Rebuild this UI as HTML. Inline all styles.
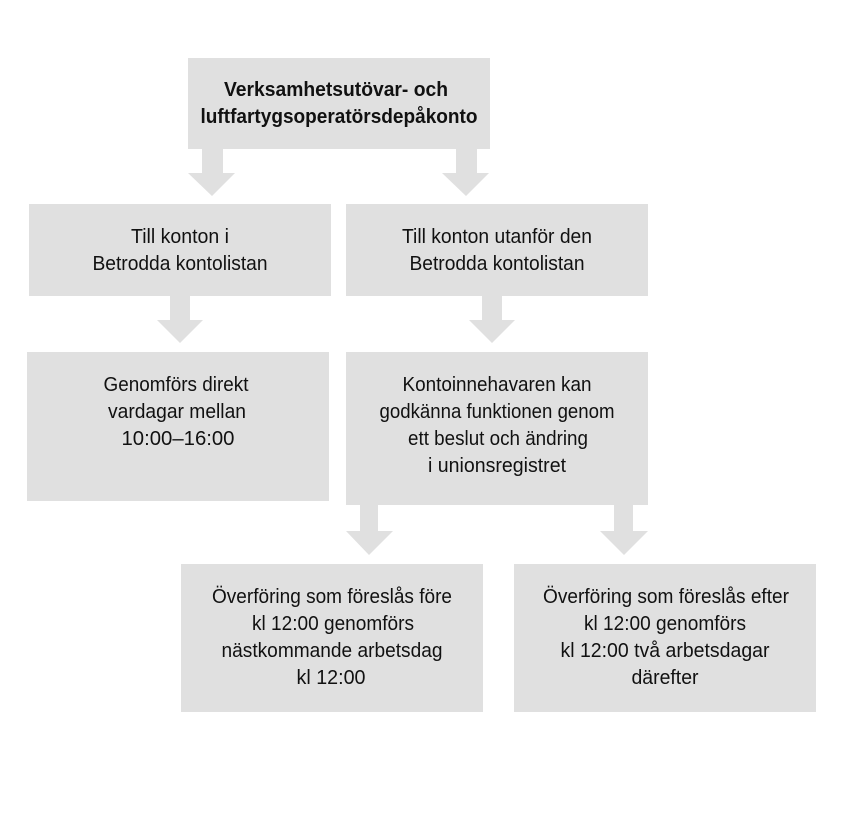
<!DOCTYPE html>
<html><head><meta charset="utf-8"><style>html,body{margin:0;padding:0;background:#fff}svg{display:block}</style></head>
<body>
<svg width="844" height="823" xmlns="http://www.w3.org/2000/svg" font-family="Liberation Sans, Arial, sans-serif" font-size="20" fill="#111">
<g fill="#e0e0e0">
<rect x="188" y="58" width="302" height="91"/>
<rect x="29" y="204" width="302" height="92"/>
<rect x="346" y="204" width="302" height="92"/>
<rect x="27" y="352" width="302" height="149"/>
<rect x="346" y="352" width="302" height="153"/>
<rect x="181" y="564" width="302" height="148"/>
<rect x="514" y="564" width="302" height="148"/>
<polygon points="202,149 223,149 223,173 235,173 212,196 188,173 202,173"/>
<polygon points="456,149 477,149 477,173 489,173 466,196 442,173 456,173"/>
<polygon points="170,296 190,296 190,320 203,320 180,343 157,320 170,320"/>
<polygon points="482,296 502,296 502,320 515,320 492,343 469,320 482,320"/>
<polygon points="360,505 378,505 378,531 393,531 369,555 346,531 360,531"/>
<polygon points="614,505 633,505 633,531 648,531 624,555 600,531 614,531"/>
</g>
<g text-anchor="middle">
<text x="336" y="96" font-weight="bold" textLength="224" lengthAdjust="spacingAndGlyphs">Verksamhetsutövar- och</text>
<text x="339" y="123" font-weight="bold" textLength="277" lengthAdjust="spacingAndGlyphs">luftfartygsoperatörsdepåkonto</text>

<text x="180" y="243" textLength="98" lengthAdjust="spacingAndGlyphs">Till konton i</text>
<text x="180" y="270" textLength="175" lengthAdjust="spacingAndGlyphs">Betrodda kontolistan</text>
<text x="497" y="243" textLength="190" lengthAdjust="spacingAndGlyphs">Till konton utanför den</text>
<text x="497" y="270" textLength="175" lengthAdjust="spacingAndGlyphs">Betrodda kontolistan</text>

<text x="176" y="391" textLength="145" lengthAdjust="spacingAndGlyphs">Genomförs direkt</text>
<text x="177" y="418" textLength="138" lengthAdjust="spacingAndGlyphs">vardagar mellan</text>
<text x="178" y="445" textLength="113" lengthAdjust="spacingAndGlyphs">10:00–16:00</text>

<text x="497" y="391" textLength="189" lengthAdjust="spacingAndGlyphs">Kontoinnehavaren kan</text>
<text x="497" y="418" textLength="235" lengthAdjust="spacingAndGlyphs">godkänna funktionen genom</text>
<text x="498" y="445" textLength="180" lengthAdjust="spacingAndGlyphs">ett beslut och ändring</text>
<text x="497" y="472" textLength="138" lengthAdjust="spacingAndGlyphs">i unionsregistret</text>

<text x="332" y="603" textLength="240" lengthAdjust="spacingAndGlyphs">Överföring som föreslås före</text>
<text x="333" y="630" textLength="162" lengthAdjust="spacingAndGlyphs">kl 12:00 genomförs</text>
<text x="332" y="657" textLength="221" lengthAdjust="spacingAndGlyphs">nästkommande arbetsdag</text>
<text x="331" y="684" textLength="69" lengthAdjust="spacingAndGlyphs">kl 12:00</text>

<text x="666" y="603" textLength="246" lengthAdjust="spacingAndGlyphs">Överföring som föreslås efter</text>
<text x="665" y="630" textLength="162" lengthAdjust="spacingAndGlyphs">kl 12:00 genomförs</text>
<text x="665" y="657" textLength="209" lengthAdjust="spacingAndGlyphs">kl 12:00 två arbetsdagar</text>
<text x="665" y="684" textLength="67" lengthAdjust="spacingAndGlyphs">därefter</text>
</g>
</svg>
</body></html>
